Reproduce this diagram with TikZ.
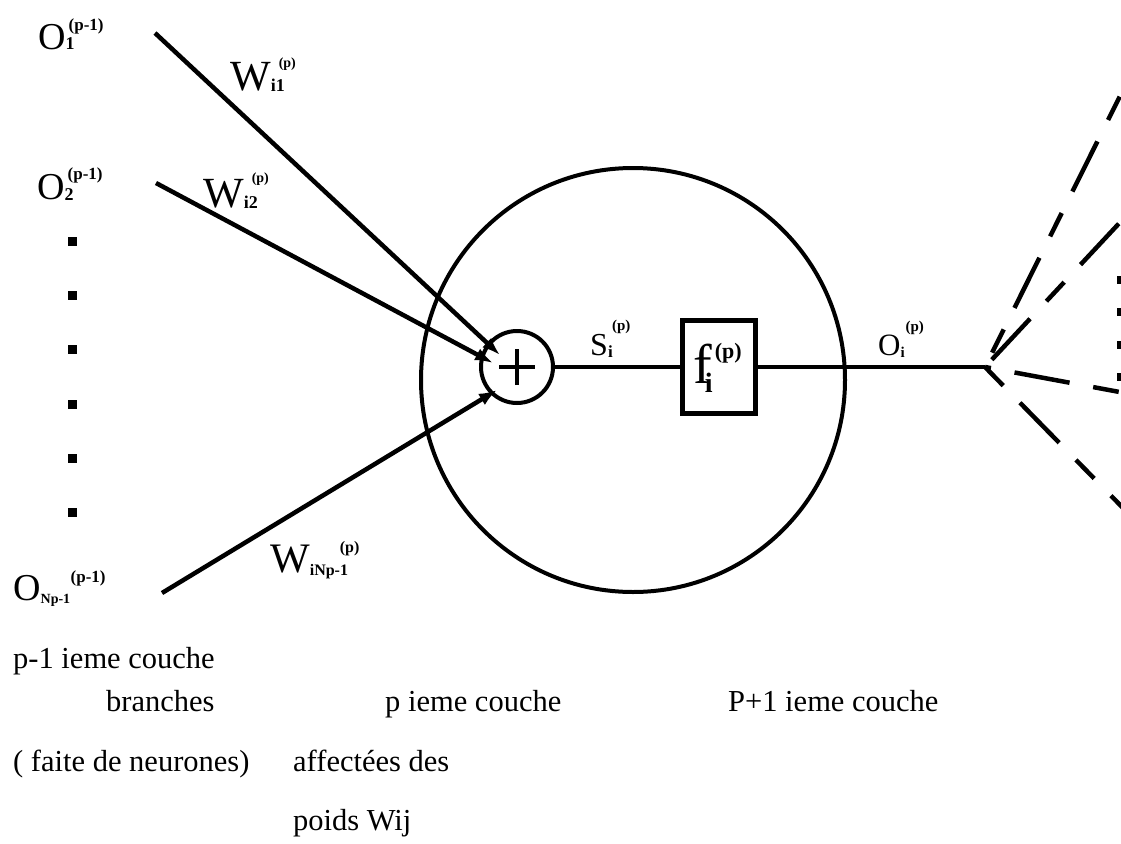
\documentclass[tikz,border=0pt]{standalone}
\usepackage{fontspec}
\setmainfont{Liberation Serif}
\usetikzlibrary{arrows.meta}
\newcommand\mainl[2]{{\fontsize{#1}{#1}\selectfont #2}}
\newcommand\subl[4]{\rlap{\kern#1\raisebox{#2}{\fontsize{#3}{#3}\selectfont\bfseries #4}}}
\newcommand\supl[4]{\kern#1\raisebox{#2}{\fontsize{#3}{#3}\selectfont\bfseries #4}}
\begin{document}
\begin{tikzpicture}[x=1pt,y=-1pt,
  lab/.style={inner sep=0pt, anchor=base west},
  body/.style={inner sep=0pt, anchor=base west, font=\fontsize{30.5pt}{36pt}\selectfont},
  wire/.style={line width=4.5pt},
  arr/.style={line width=4.5pt, -{Latex[length=18pt,width=13pt]}},
  dsh/.style={line width=4.5pt, dash pattern=on 26pt off 24pt on 56pt off 24pt},
  sq/.style={fill=black, minimum size=9pt, inner sep=0pt, draw=none}]
\useasboundingbox (0,0) rectangle (1121,843);
\clip (0,0) rectangle (1121,843);

% big neuron circle
\node[circle, draw, line width=4pt, minimum size=424pt, inner sep=0pt] (big) at (633,380) {};
% summation circle
\node[circle, draw, line width=4pt, minimum size=72pt, inner sep=0pt] (sum) at (517,367) {};
\draw[line width=3.5pt] ([xshift=-18pt]sum.center) -- ([xshift=18pt]sum.center);
\draw[line width=3.5pt] ([yshift=-18pt]sum.center) -- ([yshift=18pt]sum.center);
% activation box
\node[draw, line width=5pt, minimum width=73pt, minimum height=93pt, inner sep=0pt] (fbox) at (718.5,367) {};

% input line ends
\coordinate (a1s) at (155,33);
\coordinate (a1e) at (500,355);
\coordinate (a2s) at (156,183);
\coordinate (a2e) at (493,363);
\coordinate (a3s) at (162,593);
\coordinate (a3e) at (497,390);
\draw[arr] (a1s) -- (a1e);
\draw[arr] (a2s) -- (a2e);
\draw[arr] (a3s) -- (a3e);

% fan-out point
\coordinate (F) at (985,367);
\draw[wire] (sum.east) -- (fbox.west);
\draw[wire] (fbox.east) -- (F);

\coordinate (e1) at (1125,86);
\coordinate (e2) at (1125,217);
\coordinate (e3) at (1125,393);
\coordinate (e4) at (1125,510);
\draw[dsh, dash phase=114pt] (F) -- (e1);
\draw[dsh, dash phase=40pt] (F) -- (e2);
\draw[dsh, dash phase=20pt] (F) -- (e3);
\draw[dsh] (F) -- (e4);

% right dots (clipped)
\node[sq, minimum size=8pt] (r1) at (1121,280) {};
\node[sq, minimum size=8pt] (r2) at (1121,312) {};
\node[sq, minimum size=8pt] (r3) at (1121,345) {};
\node[sq, minimum size=8pt] (r4) at (1121,377) {};

% left dots
\node[sq] (d1) at (72.5,241) {};
\node[sq] (d2) at (72.5,295) {};
\node[sq] (d3) at (72.5,349) {};
\node[sq] (d4) at (72.5,404) {};
\node[sq] (d5) at (72.5,458) {};
\node[sq] (d6) at (72.5,512) {};

% labels
\node[lab] (o1) at (38,49) {\mainl{38pt}{O}\subl{0pt}{-1pt}{18pt}{1}\supl{3pt}{19pt}{17pt}{(p-1)}};
\node[lab] (o2) at (37,199) {\mainl{38pt}{O}\subl{0pt}{-1pt}{18pt}{2}\supl{3pt}{20pt}{17pt}{(p-1)}};
\node[lab] (onp) at (13,600) {\mainl{38pt}{O}\subl{0pt}{-3pt}{14pt}{Np-1}\supl{30pt}{18pt}{17pt}{(p-1)}};
\node[lab] (w1) at (230,90) {\mainl{43pt}{W}\subl{0pt}{-1pt}{18pt}{i1}\supl{8pt}{23pt}{14pt}{(p)}};
\node[lab] (w2) at (203,207) {\mainl{43pt}{W}\subl{0pt}{-1pt}{18pt}{i2}\supl{8pt}{25pt}{14pt}{(p)}};
\node[lab] (wnp) at (270,572) {\mainl{42pt}{W}\subl{0pt}{-3pt}{16pt}{iNp-1}\supl{30pt}{20pt}{16pt}{(p)}};
\node[lab] (s) at (590,355) {\mainl{32pt}{S}\subl{0pt}{-2pt}{17pt}{i}\supl{4pt}{25pt}{15pt}{(p)}};
\node[lab] (f) at (693,383) {\mainl{56pt}{f}\subl{-7pt}{-9pt}{28pt}{i}\supl{3pt}{25pt}{22pt}{(p)}};
\node[lab] (oi) at (878,355) {\mainl{31pt}{O}\subl{0pt}{-2pt}{15pt}{i}\supl{5pt}{24pt}{15pt}{(p)}};

% bottom texts
\node[body] (t1) at (13,668) {p-1 ieme couche};
\node[body] (t2) at (106,711) {branches};
\node[body] (t3) at (385,711) {p ieme couche};
\node[body] (t4) at (728,711) {P+1 ieme couche};
\node[body] (t5) at (13,771) {( faite de neurones)};
\node[body] (t6) at (293,771) {affectées des};
\node[body] (t7) at (293,830) {poids Wij};
\end{tikzpicture}
\end{document}
